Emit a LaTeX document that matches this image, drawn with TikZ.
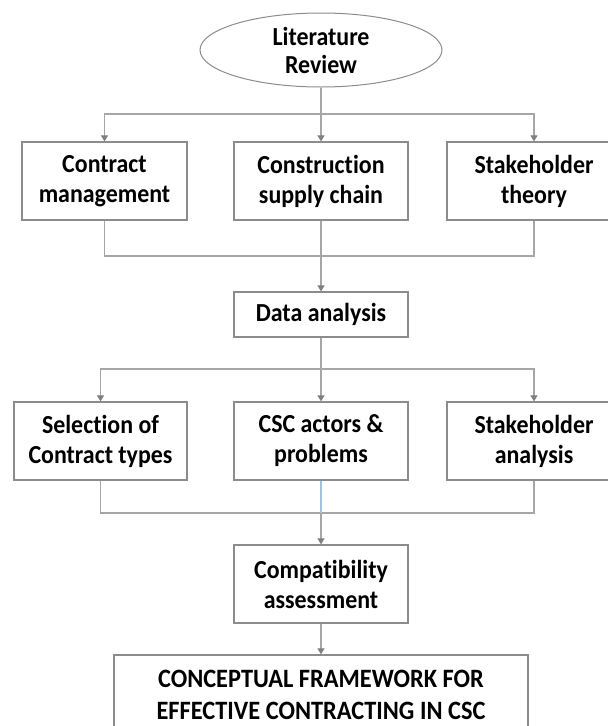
\documentclass[tikz,border=0pt]{standalone}
\usepackage{fontspec}
\setmainfont{Carlito}[FakeStretch=0.92, Ligatures=NoCommon]
\usetikzlibrary{shapes.geometric,arrows.meta}
\definecolor{boxgray}{HTML}{8C8C8C}
\definecolor{linegray}{HTML}{A6A6A6}
\definecolor{arrowgray}{HTML}{7F7F7F}
\definecolor{blueline}{HTML}{9DC3E6}
\begin{document}
\begin{tikzpicture}[x=1pt,y=-1pt,
  stepbox/.style={draw=boxgray, line width=1.3pt, fill=white, align=center,
    inner sep=0pt, minimum width=174pt, minimum height=78pt,
    font=\bfseries\fontsize{26}{30}\selectfont},
  oval/.style={ellipse, draw=boxgray, line width=1pt, fill=white, align=center,
    inner sep=0pt, minimum width=242pt, minimum height=74pt,
    font=\bfseries\fontsize{26}{28}\selectfont},
  conn/.style={draw=linegray, line width=1.1pt},
  arr/.style={conn, -{Triangle[length=6pt,width=7pt,color=arrowgray]}}]
\clip (0,0) rectangle (608,726);
\fill[white] (0,0) rectangle (608,726);

% start of the study
\node[oval] (lit) at (321,50) {Literature\\Review};

% first row: literature themes
\node[stepbox, minimum width=165pt] (cm) at (104.5,181) {Contract\\management};
\node[stepbox] (csc) at (321,181) {Construction\\supply chain};
\node[stepbox] (st) at (534,181) {Stakeholder\\theory};

\node[stepbox, minimum height=45pt] (da) at (321,314.5) {Data analysis};

% second row: analysis outputs
\node[stepbox, minimum width=173pt] (sel) at (100.5,441) {Selection of\\Contract types};
\node[stepbox] (act) at (321,441) {CSC actors \&\\problems};
\node[stepbox] (sha) at (534,441) {Stakeholder\\analysis};

\node[stepbox] (comp) at (321,584) {Compatibility\\assessment};

\node[stepbox, minimum width=414pt, minimum height=79pt,
  font=\bfseries\fontsize{26.5}{32}\selectfont] (fw) at (321,694.5)
  {CONCEPTUAL FRAMEWORK FOR\\EFFECTIVE CONTRACTING IN CSC};

% branch and join points
\coordinate (s1) at (321,114);
\coordinate (j1) at (321,256);
\coordinate (s2) at (321,369);
\coordinate (j2) at (321,513);

% connectors
\draw[conn] (lit) -- (s1);
\draw[arr] (s1) -| (cm);
\draw[arr] (s1) -- (csc);
\draw[arr] (s1) -| (st);
\draw[conn] (cm) |- (j1) -| (st);
\draw[arr] (csc) -- (da);
\draw[conn] (da) -- (s2);
\draw[arr] (s2) -| (sel);
\draw[arr] (s2) -- (act);
\draw[arr] (s2) -| (sha);
\draw[conn] (sel) |- (j2) -| (sha);
\draw[conn, draw=blueline] (act) -- (j2);
\draw[arr] (j2) -- (comp);
\draw[arr] (comp) -- (fw);
\end{tikzpicture}
\end{document}
